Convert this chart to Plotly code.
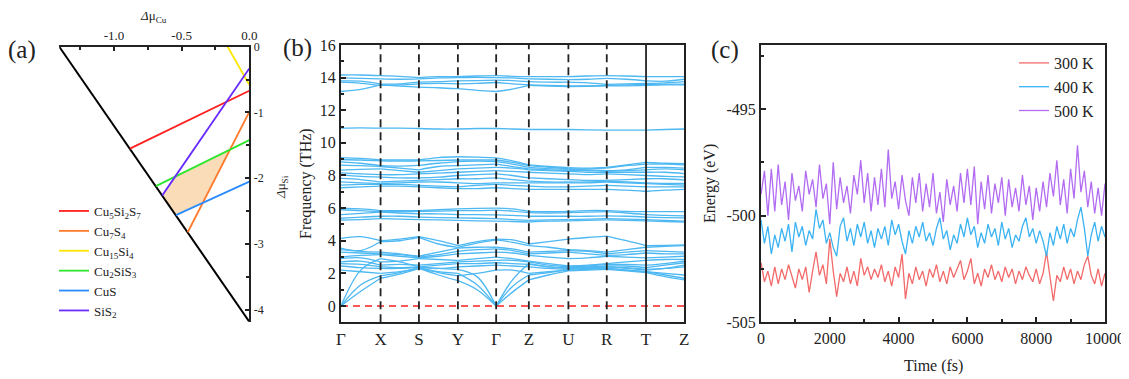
import plotly.graph_objects as go

# page is rendered with an 8px body margin; the figure is offset by it
OX, OY = 8, 8
FW, FH = 1129 - OX, 379 - OY
FONT = "Times New Roman, Liberation Serif, serif"

def px(x):
    return (x - OX) / FW

def py(y):
    return 1 - (y - OY) / FH

# ---------------- Panel (a): chemical potential diagram ----------------
a_xmin, a_ymin = -1.404, -4.18          # triangle extents (Δμ_Cu, Δμ_Si)
phase_names = ["Cu<sub>5</sub>Si<sub>2</sub>S<sub>7</sub>", "Cu<sub>7</sub>S<sub>4</sub>",
               "Cu<sub>15</sub>Si<sub>4</sub>", "Cu<sub>2</sub>SiS<sub>3</sub>", "CuS", "SiS<sub>2</sub>"]
phase_colors = ["#ff1f1f", "#ff7a2a", "#ffe600", "#2ee62e", "#2b8cff", "#6a2bff"]
phase_x0 = [-0.882, -0.455, -0.160, -0.690, -0.542, -0.643]
phase_y0 = [-1.55, -2.82, 0.0, -2.12, -2.56, -2.26]
phase_x1 = [0.0, 0.0, 0.0, 0.0, 0.0, 0.0]
phase_y1 = [-0.67, -0.99, -0.58, -1.42, -2.05, -0.33]

# ---------------- Panel (b): phonon bands ----------------
k_labels = ["Γ", "X", "S", "Y", "Γ", "Z", "U", "R", "T", "Z"]
k_pos = [0, 39.6, 78.0, 117.0, 155.3, 188.0, 227.6, 266.0, 305.3, 343.6]
# values at each high-symmetry point and the midpoint of each segment (19 values)
bands_top = [
    [14.16,14.16,14.12,14.08,14.0,14.06,14.06,14.1,14.12,14.08,14.06,14.06,14.06,14.1,14.12,14.1,14.06,14.06,14.06],
    [13.98,13.95,13.92,13.9,13.92,13.98,14.0,14.02,14.0,13.98,13.92,13.9,13.88,13.9,13.95,13.9,13.8,13.78,13.9],
    [13.8,13.78,13.6,13.62,13.72,13.75,13.8,13.82,13.85,13.82,13.75,13.72,13.72,13.68,13.58,13.62,13.65,13.68,13.75],
    [13.72,13.65,13.52,13.55,13.62,13.65,13.62,13.65,13.7,13.62,13.55,13.52,13.5,13.5,13.52,13.55,13.58,13.6,13.6],
    [13.15,13.28,13.55,13.48,13.42,13.38,13.32,13.22,13.15,13.3,13.52,13.48,13.45,13.47,13.5,13.5,13.52,13.55,13.55],
]
bands_11 = [
    [10.9,10.92,10.9,10.9,10.88,10.85,10.85,10.88,10.88,10.85,10.82,10.82,10.82,10.8,10.78,10.78,10.78,10.82,10.85],
]
bands_8 = [
    [9.1,9.05,8.95,8.95,8.95,9.1,9.15,9.12,9.08,8.9,8.65,8.55,8.48,8.45,8.5,8.65,8.8,8.75,8.72],
    [8.98,8.95,8.9,8.88,8.9,8.92,8.95,8.95,8.95,8.8,8.6,8.5,8.42,8.4,8.45,8.6,8.7,8.7,8.65],
    [8.84,8.75,8.6,8.58,8.62,8.75,8.85,8.88,8.85,8.7,8.5,8.42,8.38,8.35,8.3,8.35,8.5,8.5,8.45],
    [8.63,8.6,8.55,8.45,8.35,8.55,8.6,8.65,8.7,8.55,8.4,8.35,8.3,8.3,8.25,8.3,8.35,8.4,8.35],
    [8.33,8.38,8.4,8.3,8.2,8.3,8.4,8.45,8.5,8.45,8.35,8.3,8.25,8.2,8.2,8.2,8.2,8.2,8.12],
    [8.16,8.1,8.05,8.05,8.1,8.15,8.2,8.25,8.3,8.25,8.2,8.15,8.1,8.05,8.1,8.05,8.0,7.95,7.92],
    [8.02,7.95,7.9,7.85,7.85,7.9,8.0,8.05,8.1,8.0,7.85,7.8,7.75,7.7,7.7,7.75,7.8,7.8,7.72],
    [7.82,7.75,7.6,7.65,7.7,7.75,7.8,7.8,7.85,7.75,7.65,7.6,7.6,7.6,7.65,7.6,7.55,7.52,7.51],
    [7.61,7.55,7.5,7.55,7.6,7.6,7.55,7.5,7.55,7.55,7.55,7.55,7.55,7.55,7.6,7.55,7.5,7.45,7.41],
    [7.41,7.45,7.45,7.45,7.4,7.35,7.3,7.4,7.45,7.4,7.35,7.3,7.3,7.35,7.4,7.35,7.3,7.3,7.3],
    [7.25,7.3,7.35,7.35,7.3,7.25,7.2,7.2,7.25,7.2,7.15,7.15,7.15,7.15,7.15,7.1,7.02,7.1,7.15],
]
bands_6 = [
    [6.0,5.95,5.85,5.85,5.85,5.9,5.95,5.98,6.0,5.95,5.8,5.78,5.8,5.85,5.85,5.8,5.78,5.78,5.78],
    [5.9,5.85,5.78,5.78,5.8,5.82,5.85,5.85,5.88,5.82,5.72,5.7,5.72,5.75,5.78,5.7,5.6,5.55,5.52],
    [5.6,5.68,5.75,5.7,5.65,5.65,5.6,5.6,5.58,5.55,5.5,5.5,5.5,5.5,5.52,5.5,5.45,5.42,5.4],
    [5.38,5.45,5.5,5.5,5.45,5.42,5.4,5.38,5.35,5.3,5.25,5.28,5.3,5.32,5.35,5.32,5.3,5.25,5.2],
    [5.26,5.3,5.35,5.32,5.3,5.28,5.25,5.22,5.2,5.18,5.15,5.2,5.22,5.25,5.28,5.25,5.22,5.18,5.15],
]
bands_low = [
    [4.15,4.25,4.0,4.1,4.25,4.0,3.7,3.95,4.1,4.05,3.8,3.95,4.1,4.2,4.28,4.0,3.7,3.72,3.75],
    [3.55,3.4,3.95,4.0,4.2,3.8,3.6,3.85,4.05,3.9,3.7,3.6,3.45,3.4,3.3,3.45,3.6,3.65,3.7],
    [3.45,3.35,3.3,3.2,3.05,3.3,3.55,3.6,3.6,3.5,3.3,3.35,3.4,3.35,3.2,3.3,3.4,3.35,3.3],
    [3.3,3.25,3.2,3.15,3.0,3.15,3.35,3.45,3.5,3.4,3.2,3.25,3.3,3.2,3.1,3.15,3.25,3.2,3.2],
    [3.0,3.1,3.15,3.05,2.95,3.05,3.2,3.25,3.3,3.25,3.1,3.0,2.9,2.95,3.05,3.0,2.95,3.0,3.05],
    [2.9,2.95,2.7,2.75,2.9,2.85,2.8,2.9,3.0,2.9,2.75,2.6,2.45,2.5,2.6,2.7,2.8,2.85,2.85],
    [2.7,2.75,2.5,2.55,2.5,2.6,2.7,2.75,2.8,2.8,2.7,2.5,2.4,2.45,2.55,2.55,2.5,2.6,2.75],
    [2.6,2.55,2.4,2.35,2.4,2.5,2.6,2.6,2.65,2.6,2.55,2.4,2.35,2.4,2.45,2.45,2.35,2.5,2.65],
    [2.45,2.35,2.3,2.3,2.35,2.3,2.4,2.45,2.5,2.45,2.4,2.3,2.25,2.35,2.4,2.35,2.25,2.3,2.4],
    [2.2,2.1,2.0,2.1,2.3,2.05,1.85,2.0,2.2,2.2,2.0,2.1,2.2,2.25,2.3,2.2,2.1,2.0,1.9],
]
bands_acoustic = [
    [0,0.9,1.7,1.95,2.3,1.9,1.55,1.0,0,0.85,1.6,1.9,2.15,2.2,2.25,2.15,2.05,1.8,1.6],
    [0,1.3,1.85,2.05,2.35,2.1,2.0,1.3,0,1.2,1.9,2.05,2.25,2.3,2.3,2.2,2.1,1.9,1.7],
    [0,2.2,2.9,2.7,2.4,2.3,2.25,1.8,0,1.6,2.6,2.4,2.3,2.35,2.4,2.3,2.2,2.3,2.5],
]

# ---------------- Panel (c): AIMD energies ----------------
time_fs = list(range(0, 10001, 100))
e_300 = [-502.2,-503.1,-502.6,-503.3,-502.4,-503.2,-502.5,-503.0,-502.3,-502.9,
         -503.4,-502.5,-503.0,-502.4,-503.6,-502.6,-501.7,-502.8,-502.3,-503.2,
         -501.1,-502.6,-503.8,-502.7,-503.1,-502.4,-503.2,-502.6,-503.3,-502.0,
         -502.8,-502.4,-503.0,-502.5,-502.9,-502.3,-503.1,-502.6,-503.3,-502.4,
         -502.9,-501.8,-503.9,-502.7,-503.2,-502.4,-503.0,-502.6,-503.3,-502.5,
         -502.9,-502.3,-503.1,-502.6,-503.2,-502.4,-502.9,-502.5,-502.1,-503.0,
         -502.6,-502.0,-503.2,-502.7,-503.3,-502.5,-502.9,-502.3,-503.0,-502.6,
         -503.1,-502.4,-502.9,-502.5,-503.2,-502.6,-503.0,-502.4,-502.8,-503.1,
         -502.5,-503.2,-502.7,-501.7,-502.9,-504.0,-502.8,-503.1,-502.4,-503.0,
         -502.5,-503.2,-502.6,-503.0,-502.3,-501.9,-502.8,-503.2,-502.5,-503.3,-502.7]
e_400 = [-500.2,-501.3,-500.5,-501.8,-500.9,-501.5,-500.6,-501.2,-500.4,-501.7,
         -500.3,-501.0,-500.5,-501.4,-500.7,-501.1,-499.7,-500.6,-500.2,-501.3,
         -500.8,-501.5,-501.9,-500.5,-500.1,-501.2,-500.6,-501.4,-500.4,-501.0,
         -500.3,-501.3,-500.7,-501.5,-500.6,-501.1,-500.5,-501.4,-500.2,-500.9,
         -500.4,-501.2,-501.8,-500.7,-501.3,-500.5,-501.0,-500.3,-501.2,-500.8,
         -501.4,-500.6,-500.1,-501.1,-500.7,-501.6,-500.9,-501.3,-500.4,-501.0,
         -500.1,-500.9,-500.5,-501.5,-500.8,-501.3,-500.4,-501.0,-500.6,-501.4,
         -500.3,-501.1,-500.6,-501.5,-500.9,-501.2,-500.5,-500.1,-501.0,-500.6,
         -501.3,-500.7,-501.2,-501.9,-500.8,-501.4,-500.5,-501.1,-500.4,-501.3,
         -500.6,-501.0,-500.2,-499.6,-500.6,-501.9,-500.9,-500.3,-501.2,-500.5,-501.0]
e_500 = [-499.0,-497.9,-500.0,-497.8,-499.8,-497.6,-499.5,-498.4,-500.2,-498.0,
         -499.3,-498.6,-499.8,-497.9,-499.0,-498.3,-499.6,-497.6,-499.2,-498.5,
         -500.4,-497.5,-499.7,-498.2,-499.4,-498.6,-499.9,-498.1,-499.0,-497.4,
         -499.4,-498.0,-499.8,-498.2,-499.5,-497.8,-499.6,-496.9,-499.2,-498.4,
         -499.7,-498.1,-499.3,-500.0,-498.2,-499.4,-498.0,-499.8,-498.5,-499.6,
         -498.0,-499.9,-498.9,-500.3,-498.3,-499.5,-498.6,-499.8,-498.0,-499.4,
         -497.8,-499.5,-497.7,-500.4,-498.4,-499.7,-498.1,-499.9,-498.5,-499.4,
         -498.2,-500.0,-498.3,-499.6,-498.7,-499.8,-498.1,-499.5,-498.6,-500.2,
         -498.7,-499.8,-498.4,-499.6,-498.0,-499.1,-497.4,-499.5,-498.3,-499.9,
         -497.8,-499.2,-496.7,-498.9,-497.9,-499.6,-498.4,-499.9,-498.7,-500.0,-498.5]
temp_names = ["300 K", "400 K", "500 K"]
temp_colors = ["#f26a6a", "#3bb3f2", "#b26cf2"]

fig = go.Figure()

# ---- panel (a) ----
def line_isect(i, j):
    # intersection of phase lines i and j
    x1, y1, x2, y2 = phase_x0[i], phase_y0[i], phase_x1[i], phase_y1[i]
    x3, y3, x4, y4 = phase_x0[j], phase_y0[j], phase_x1[j], phase_y1[j]
    d = (x1 - x2) * (y3 - y4) - (y1 - y2) * (x3 - x4)
    qx = ((x1*y2 - y1*x2) * (x3 - x4) - (x1 - x2) * (x3*y4 - y3*x4)) / d
    qy = ((x1*y2 - y1*x2) * (y3 - y4) - (y1 - y2) * (x3*y4 - y3*x4)) / d
    return qx, qy

poly = [(phase_x0[5], phase_y0[5]), line_isect(5, 3), line_isect(3, 1),
        line_isect(1, 4), (phase_x0[4], phase_y0[4])]
fig.add_trace(go.Scatter(x=[p[0] for p in poly] + [poly[0][0]], y=[p[1] for p in poly] + [poly[0][1]],
                         fill="toself", fillcolor="rgba(250,214,172,0.85)", mode="none",
                         showlegend=False, xaxis="x", yaxis="y", hoverinfo="skip"))
fig.add_trace(go.Scatter(x=[a_xmin, 0], y=[0, a_ymin], mode="lines",
                         line=dict(color="black", width=2), showlegend=False, xaxis="x", yaxis="y"))
for n, c, x0, y0, x1, y1 in zip(phase_names, phase_colors, phase_x0, phase_y0, phase_x1, phase_y1):
    fig.add_trace(go.Scatter(x=[x0, x1], y=[y0, y1], mode="lines", name=n,
                             line=dict(color=c, width=1.8), xaxis="x", yaxis="y", legend="legend"))

# ---- panel (b) ----
bx, by = [], []
for band in bands_top + bands_11 + bands_8 + bands_6 + bands_low + bands_acoustic:
    for s in range(len(k_pos) - 1):
        bx += [k_pos[s], (k_pos[s] + k_pos[s + 1]) / 2, k_pos[s + 1], None]
        by += [band[2*s], band[2*s + 1], band[2*s + 2], None]
fig.add_trace(go.Scatter(x=bx, y=by, mode="lines", line=dict(color="#4db8f2", width=1.3, shape="spline"),
                         connectgaps=False, showlegend=False, xaxis="x2", yaxis="y2"))
fig.add_trace(go.Scatter(x=[k_pos[0], k_pos[-1]], y=[0, 0], mode="lines",
                         line=dict(color="#ff2020", width=1.5, dash="7px,5px"),
                         showlegend=False, xaxis="x2", yaxis="y2"))
for i, kp in enumerate(k_pos[1:-1], start=1):
    fig.add_shape(type="line", xref="x2", yref="y2 domain", x0=kp, x1=kp, y0=0, y1=1,
                  line=dict(color="#222", width=1.8, dash="solid" if k_labels[i] == "T" else "8px,5px"))

# ---- panel (c) ----
for n, c, e in zip(temp_names, temp_colors, [e_300, e_400, e_500]):
    fig.add_trace(go.Scatter(x=time_fs, y=e, mode="lines", name=n, line=dict(color=c, width=1.3),
                             xaxis="x3", yaxis="y3", legend="legend2"))

axfont = dict(family=FONT, color="#222")
common = dict(showgrid=False, zeroline=False, showline=True, linecolor="#222", linewidth=2,
              ticks="inside", tickcolor="#222", tickwidth=1.5, automargin=False)

def txt(text, x, y, size, angle=0):
    return dict(text=text, x=px(x), y=py(y), xref="paper", yref="paper", showarrow=False,
                xanchor="center", yanchor="middle", textangle=angle, font=dict(size=size, **axfont))

fig.update_layout(
    width=FW, height=FH, margin=dict(l=0, r=0, t=0, b=0, autoexpand=False),
    paper_bgcolor="white", plot_bgcolor="white",
    font=dict(family=FONT, color="#222"),
    xaxis=dict(**common, domain=[px(59.3), px(249.3)], range=[a_xmin, 0], side="top", anchor="y",
               ticklen=4, tickvals=[-1.0, -0.5, 0.0], ticktext=["-1.0", "-0.5", "0.0"],
               tickfont=dict(size=13, **axfont),
               minor=dict(tickvals=[-1.25, -0.75, -0.25], ticks="inside", ticklen=3, tickcolor="#222")),
    yaxis=dict(**common, domain=[py(321.7), py(46.7)], range=[a_ymin, 0], side="right", anchor="x",
               ticklen=4, tickvals=[0, -1, -2, -3, -4], ticktext=["0", "-1", "-2", "-3", "-4"],
               tickfont=dict(size=12, **axfont),
               minor=dict(tickvals=[-0.5, -1.5, -2.5, -3.5], ticks="inside", ticklen=3, tickcolor="#222")),
    xaxis2=dict(**{**common, "ticks": ""}, domain=[px(341), px(684.3)], range=[0, k_pos[-1]], anchor="y2",
                mirror=True, tickvals=k_pos, ticktext=k_labels, tickfont=dict(size=17, **axfont)),
    yaxis2=dict(**common, domain=[py(322.3), py(45)], range=[-1, 16], anchor="x2", mirror=True,
                dtick=2, ticklen=5, tickfont=dict(size=16, **axfont),
                minor=dict(dtick=1, ticks="inside", ticklen=3, tickcolor="#222")),
    xaxis3=dict(**common, domain=[px(761), px(1105)], range=[0, 10000], anchor="y3", mirror=True,
                dtick=2000, tickformat="d", ticklen=5, tickfont=dict(size=16, **axfont),
                minor=dict(dtick=1000, ticks="inside", ticklen=3, tickcolor="#222")),
    yaxis3=dict(**common, domain=[py(322.3), py(45)], range=[-505, -492], anchor="x3", mirror=True,
                tickvals=[-505, -500, -495], ticktext=["-505", "-500", "-495"], ticklen=5,
                tickfont=dict(size=16, **axfont),
                minor=dict(tickvals=[-502.5, -497.5, -492.5], ticks="inside", ticklen=3, tickcolor="#222")),
    legend=dict(x=px(54), y=py(196), xanchor="left", yanchor="top", bgcolor="rgba(0,0,0,0)",
                font=dict(size=13, **axfont), tracegroupgap=0),
    legend2=dict(x=px(1014), y=py(46), xanchor="left", yanchor="top", bgcolor="rgba(0,0,0,0)",
                 font=dict(size=16, **axfont), tracegroupgap=0),
    annotations=[
        txt("(a)", 22, 50, 25), txt("(b)", 297, 48, 25), txt("(c)", 725, 50, 25),
        txt("<i>Δ</i>μ<sub>Cu</sub>", 153, 16, 13),
        txt("<i>Δ</i>μ<sub>Si</sub>", 281, 187, 13, -90),
        txt("Frequency (THz)", 306, 184, 16, -90),
        txt("Energy (eV)", 710, 184, 16, -90),
        txt("Time (fs)", 933, 366, 16),
    ],
)

fig.write_html("out.html")
